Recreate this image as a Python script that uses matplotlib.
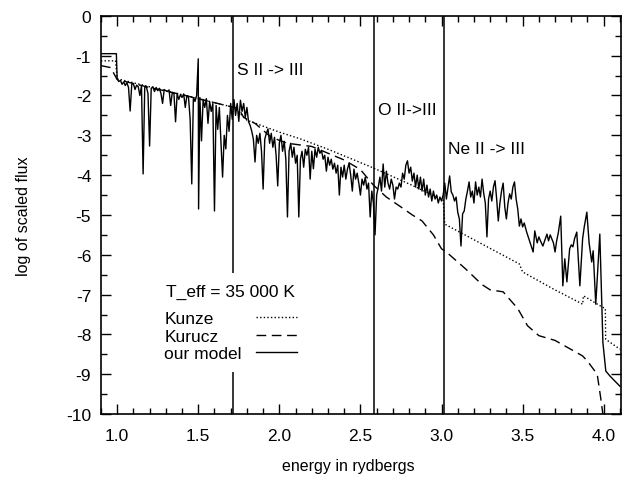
import numpy as np
import matplotlib
matplotlib.use("Agg")
import matplotlib.pyplot as plt
from matplotlib.ticker import MultipleLocator, FormatStrFormatter

plt.rcParams["font.family"] = ["Liberation Sans", "DejaVu Sans"]
plt.rcParams["axes.unicode_minus"] = False

# ionisation edges (rydbergs)
edges_l = [1.715, 2.583, 3.015]
edge_labels_l = ["S II -> III", "O II->III", "Ne II -> III"]
edge_label_y_l = [-1.36, -2.34, -3.34]

# Kunze model (dotted)
kunze_energy_l = [0.90, 0.99, 1.00, 1.20, 1.40, 1.60, 1.72, 1.80, 2.00, 2.13,
                  2.30, 2.45, 2.58, 2.80, 3.01, 3.02, 3.19, 3.48, 3.50, 3.69,
                  3.87, 3.875, 3.99, 4.01, 4.012, 4.10]
kunze_flux_l = [-1.13, -1.13, -1.58, -1.78, -1.98, -2.18, -2.30, -2.62, -2.92, -3.09,
                -3.35, -3.60, -3.82, -4.22, -4.62, -5.23, -5.60, -6.23, -6.43, -6.86,
                -7.24, -7.03, -7.31, -7.35, -8.12, -8.37]

# Kurucz model (dashed)
kurucz_energy_l = [0.90, 0.96, 1.00, 1.20, 1.40, 1.60, 1.70, 1.75, 1.78, 1.85,
                   1.95, 2.05, 2.20, 2.30, 2.40, 2.50, 2.58, 2.66, 2.75, 2.82,
                   2.88, 2.95, 3.00, 3.03, 3.15, 3.25, 3.30, 3.38, 3.47, 3.53,
                   3.60, 3.70, 3.87, 3.90, 3.96, 3.98, 3.995]
kurucz_flux_l = [-1.25, -1.30, -1.60, -1.80, -1.98, -2.18, -2.28, -2.33, -2.55, -2.70,
                 -3.05, -3.20, -3.28, -3.45, -3.62, -3.86, -4.25, -4.55, -4.80, -5.00,
                 -5.15, -5.50, -5.85, -5.93, -6.36, -6.75, -6.88, -6.93, -7.35, -7.78,
                 -8.03, -8.15, -8.54, -8.67, -9.00, -9.55, -10.0]

# our model (solid)
model_energy_l = [
    0.90, 0.995, 1.00, 1.01, 1.02, 1.03, 1.04, 1.05, 1.06, 1.07, 1.08, 1.09,
    1.10, 1.11, 1.12, 1.13, 1.14, 1.15, 1.16, 1.17, 1.18, 1.19, 1.20, 1.21,
    1.22, 1.23, 1.24, 1.25, 1.26, 1.27, 1.28, 1.29, 1.30, 1.31, 1.32, 1.33,
    1.34, 1.35, 1.36, 1.37, 1.38, 1.39, 1.40, 1.41, 1.42, 1.43, 1.44, 1.45,
    1.46, 1.47, 1.48, 1.49, 1.50, 1.502, 1.51, 1.52, 1.53, 1.54, 1.55, 1.56,
    1.57, 1.58, 1.59, 1.60, 1.61, 1.62, 1.63, 1.64, 1.65, 1.66, 1.67, 1.68,
    1.69, 1.70, 1.71, 1.72, 1.73, 1.74, 1.75, 1.76, 1.77, 1.78, 1.79, 1.80,
    1.81, 1.82, 1.83, 1.84, 1.85, 1.86, 1.87, 1.88, 1.89, 1.90, 1.91, 1.92,
    1.93, 1.94, 1.95, 1.96, 1.97, 1.98, 1.99, 2.00, 2.01, 2.02, 2.03, 2.04,
    2.05, 2.06, 2.07, 2.08, 2.09, 2.10, 2.11, 2.12, 2.13, 2.14, 2.15, 2.16,
    2.17, 2.18, 2.19, 2.20, 2.21, 2.22, 2.23, 2.24, 2.25, 2.26, 2.27, 2.28,
    2.29, 2.30, 2.31, 2.32, 2.33, 2.34, 2.35, 2.36, 2.37, 2.38, 2.39, 2.40,
    2.41, 2.42, 2.43, 2.44, 2.45, 2.46, 2.47, 2.48, 2.49, 2.50, 2.51, 2.52,
    2.53, 2.54, 2.55, 2.56, 2.57, 2.58, 2.59, 2.60, 2.61, 2.62, 2.63, 2.64,
    2.65, 2.66, 2.67, 2.68, 2.69, 2.70, 2.71, 2.72, 2.73, 2.74, 2.75, 2.76,
    2.77, 2.78, 2.79, 2.80, 2.81, 2.82, 2.83, 2.84, 2.85, 2.86, 2.87, 2.88,
    2.89, 2.90, 2.91, 2.92, 2.93, 2.94, 2.95, 2.96, 2.97, 2.98, 2.99, 3.00,
    3.01, 3.02, 3.03, 3.04, 3.05, 3.06, 3.07, 3.08, 3.09, 3.10, 3.11, 3.12,
    3.13, 3.14, 3.15, 3.16, 3.17, 3.18, 3.19, 3.20, 3.21, 3.22, 3.23, 3.24,
    3.25, 3.26, 3.27, 3.28, 3.29, 3.30, 3.31, 3.32, 3.33, 3.34, 3.35, 3.36,
    3.37, 3.38, 3.39, 3.40, 3.41, 3.42, 3.43, 3.44, 3.45, 3.46, 3.47, 3.48,
    3.49, 3.50, 3.51, 3.52, 3.525, 3.545, 3.565, 3.575, 3.59, 3.60, 3.61, 3.625,
    3.65, 3.66, 3.67, 3.68, 3.69, 3.70, 3.71, 3.72, 3.735, 3.748, 3.76, 3.773,
    3.79, 3.80, 3.81, 3.82, 3.834, 3.853, 3.87, 3.88, 3.896, 3.91, 3.926, 3.935,
    3.951, 3.976, 3.985, 3.995, 4.013, 4.04, 4.10,
]
model_flux_l = [
    -0.95, -0.95, -1.58, -1.65, -1.62, -1.72, -1.66, -1.75, -1.68, -1.80, -2.39, -1.72,
    -1.70, -1.85, -1.74, -1.78, -2.00, -1.76, -3.97, -1.80, -1.78, -1.95, -3.27, -1.82,
    -1.78, -1.90, -1.80, -1.88, -1.82, -1.95, -2.20, -1.85, -1.88, -1.90, -1.86, -2.25,
    -1.92, -1.95, -2.66, -1.95, -2.10, -1.98, -2.05, -1.96, -2.30, -2.00, -2.05, -2.60,
    -4.22, -2.05, -2.15, -2.00, -1.08, -4.85, -2.05, -3.14, -2.10, -2.30, -2.08, -2.70,
    -2.15, -2.40, -2.20, -4.90, -2.25, -2.85, -2.30, -3.20, -4.05, -3.00, -3.34, -2.50,
    -2.90, -2.20, -2.60, -2.10, -2.50, -2.20, -2.65, -2.12, -2.40, -2.20, -2.55, -2.30,
    -2.66, -2.75, -2.90, -3.10, -3.67, -3.00, -3.20, -2.95, -3.40, -4.35, -3.10, -2.95,
    -2.84, -3.20, -2.95, -3.30, -3.05, -3.50, -4.27, -3.20, -3.00, -3.40, -3.15, -3.60,
    -5.05, -3.40, -3.20, -3.55, -3.30, -3.70, -3.50, -5.05, -3.60, -3.40, -3.80, -3.35,
    -3.50, -3.30, -4.10, -3.40, -3.84, -3.35, -3.55, -3.30, -3.45, -3.38, -3.60, -3.50,
    -3.90, -3.55, -3.75, -3.60, -3.85, -3.70, -3.95, -3.75, -4.50, -3.80, -4.05, -3.75,
    -4.10, -3.85, -3.70, -4.00, -4.40, -3.85, -4.10, -3.95, -4.20, -4.50, -4.10, -4.25,
    -4.05, -4.35, -4.20, -5.05, -4.40, -4.70, -5.50, -4.50, -4.30, -4.05, -4.40, -3.72,
    -4.30, -3.90, -4.20, -4.35, -4.10, -4.25, -4.60, -4.30, -4.35, -4.20, -4.30, -3.95,
    -4.10, -3.75, -3.64, -3.95, -3.80, -4.15, -3.95, -4.30, -4.00, -4.35, -4.05, -4.40,
    -4.10, -4.50, -4.25, -4.55, -4.35, -4.65, -4.40, -4.60, -4.50, -4.70, -4.55, -4.65,
    -4.50, -4.20, -4.60, -4.30, -4.02, -4.42, -4.50, -4.65, -4.55, -4.93, -5.10, -5.78,
    -4.97, -4.90, -4.60, -4.40, -4.17, -4.55, -4.40, -4.70, -4.17, -4.50, -4.30, -4.55,
    -4.10, -4.45, -4.70, -5.55, -4.60, -4.40, -4.65, -4.30, -4.14, -4.60, -5.15, -4.70,
    -4.40, -4.20, -4.80, -5.10, -4.70, -4.47, -4.60, -4.30, -4.17, -4.60, -4.85, -5.28,
    -5.10, -5.30, -5.20, -5.35, -5.43, -5.68, -5.93, -5.40, -5.70, -5.55, -5.65, -5.78,
    -5.48, -5.65, -5.50, -5.60, -5.70, -5.93, -5.65, -5.45, -5.03, -6.78, -6.10, -6.68,
    -5.85, -5.75, -5.80, -5.60, -5.43, -6.78, -5.60, -5.30, -4.93, -5.70, -6.18, -5.90,
    -7.24, -5.48, -6.80, -8.20, -8.92, -9.05, -9.30,
]


def left_align_legend_labels(fig, leg):
    # labels sit left of the handles, but should start at the same x
    fig.canvas.draw()
    renderer = fig.canvas.get_renderer()
    widths_l = [t.get_window_extent(renderer).width for t in leg.get_texts()]
    max_w = max(widths_l)
    column_box = leg._legend_handle_box.get_children()[0]
    for item_box, w in zip(column_box.get_children(), widths_l):
        item_box.sep += (max_w - w) * 72.0 / fig.dpi
    # extra room between the title and the entries
    leg._legend_box.sep = 8.5


def plot_spectrum(ax):
    ax.plot(kunze_energy_l, kunze_flux_l, color="black", lw=1.0,
            linestyle=(0, (1, 1.6)), label="Kunze")
    ax.plot(kurucz_energy_l, kurucz_flux_l, color="black", lw=1.0,
            linestyle=(0, (7, 4)), label="Kurucz")
    ax.plot(model_energy_l, model_flux_l, color="black", lw=1.0,
            label="our model")

    for edge_f, label_s, y_f in zip(edges_l, edge_labels_l, edge_label_y_l):
        ax.axvline(edge_f, color="black", lw=1.1, zorder=1)
        ax.text(edge_f + 0.025, y_f, label_s, fontsize=12.5, va="center", ha="left")

    ax.set_xlim(0.9, 4.105)
    ax.set_ylim(-10, 0)
    ax.xaxis.set_major_locator(MultipleLocator(0.5))
    ax.xaxis.set_minor_locator(MultipleLocator(0.1))
    ax.yaxis.set_major_locator(MultipleLocator(1))
    ax.yaxis.set_minor_locator(MultipleLocator(0.5))
    ax.xaxis.set_major_formatter(FormatStrFormatter("%.1f"))
    ax.tick_params(axis="both", which="both", direction="in", top=True, right=True,
                   labelsize=12.5)
    ax.tick_params(axis="both", which="major", length=7, width=1)
    ax.tick_params(axis="both", which="minor", length=4, width=1)
    ax.tick_params(axis="x", which="major", pad=10)
    ax.tick_params(axis="y", which="major", pad=7)
    for spine in ax.spines.values():
        spine.set_linewidth(1.2)

    ax.set_xlabel("energy in rydbergs", fontsize=11.5)
    ax.set_ylabel("log of scaled flux", fontsize=11.5)
    ax.xaxis.set_label_coords(0.475, -0.11)
    ax.yaxis.set_label_coords(-0.135, 0.5)

    leg = ax.legend(
        loc="upper left",
        bbox_to_anchor=(0.085, 0.375),
        title="T_eff = 35 000 K",
        title_fontsize=12.5,
        fontsize=12.5,
        markerfirst=False,
        handlelength=2.4,
        handletextpad=0.8,
        labelspacing=0.15,
        borderpad=0.6,
        frameon=True,
        fancybox=False,
        framealpha=1,
        facecolor="white",
        edgecolor="none",
    )
    leg.set_zorder(5)
    return leg


fig = plt.figure(figsize=(6.27, 4.81), dpi=100)
ax = fig.add_axes([0.161, 0.137, 0.829, 0.828])
leg = plot_spectrum(ax)
left_align_legend_labels(fig, leg)
fig.savefig("out.png", dpi=100)
